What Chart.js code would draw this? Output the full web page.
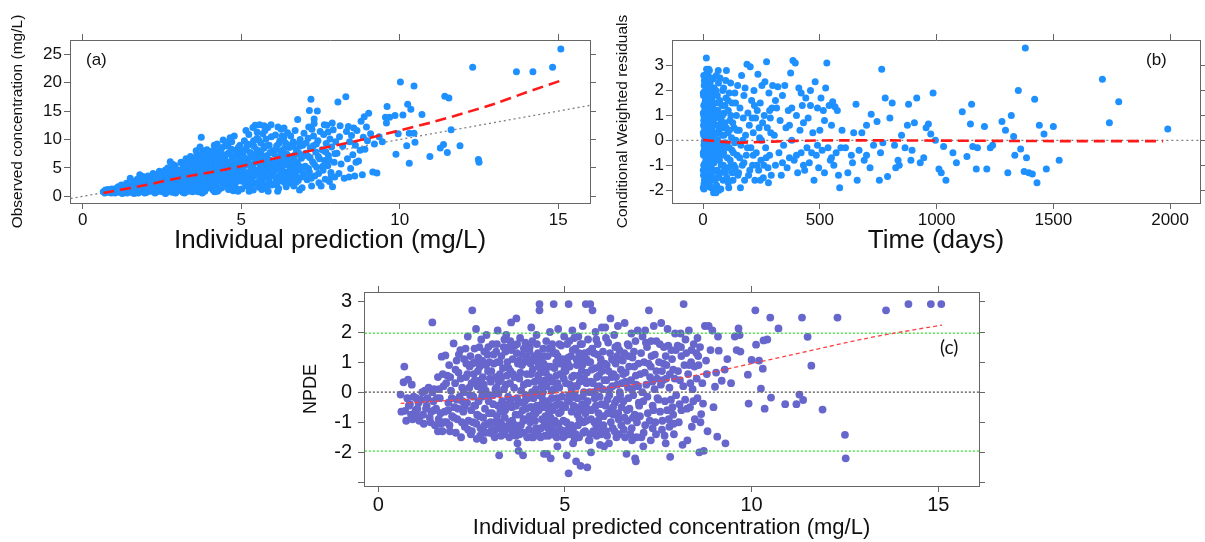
<!DOCTYPE html>
<html>
<head>
<meta charset="utf-8">
<script src="https://cdn.jsdelivr.net/npm/chart.js@4.4.1/dist/chart.umd.min.js"></script>
<style>
  body { margin: 0; background: #fff; width: 1205px; height: 542px; overflow: hidden; position: relative;
         font-family: "Liberation Sans", Arial, sans-serif; }
  canvas { position: absolute; }
  .tag { position: absolute; color: #111; font-size: 17px; line-height: 20px; }
</style>
</head>
<body>
<canvas id="chartA" width="600" height="262" style="left:0;top:0"></canvas>
<canvas id="chartB" width="600" height="262" style="left:605px;top:0"></canvas>
<canvas id="chartC" width="720" height="272" style="left:290px;top:270px"></canvas>
<div class="tag" style="left:86px;top:50px">(a)</div>
<div class="tag" style="left:1146px;top:50px">(b)</div>
<div class="tag" style="left:940px;top:337px;font-family:Lato,'Open Sans',sans-serif;font-size:19px">(c)</div>

<script>
// =======================
// Panel (a): observed vs individual prediction (mg/L)
// =======================
const ticksA_x = [0, 5, 10, 15];
const ticksA_y = [0, 5, 10, 15, 20, 25];
const obsVsPred = [
  [0.65,0.8],[0.7,0.6],[0.72,1.1],[0.78,0.7],[0.8,1.2],[0.85,0.9],[0.9,0.6],[0.92,1.3],[0.95,0.8],[0.98,1.0],
  [1.02,0.6],[1.05,1.4],[1.08,0.9],[1.12,1.7],[1.15,0.7],[1.2,1.2],[1.22,2.0],[1.27,0.8],[1.3,1.5],[1.33,1.0],[1.38,2.3],[1.4,0.6],[1.44,1.8],[1.47,1.2],[1.5,3.2],
  [1.52,0.7],[1.55,2.1],[1.58,1.4],[1.6,0.9],[1.63,2.6],[1.66,1.8],[1.7,1.1],[1.72,3.0],[1.75,0.6],[1.77,2.2],[1.8,3.8],[1.82,1.5],[1.85,2.8],[1.88,0.8],[1.9,3.5],[1.93,1.9],[1.95,2.5],[1.98,1.2],[1.99,3.1],
  [2.02,0.7],[2.04,2.0],[2.06,3.6],[2.1,1.3],[2.12,2.7],[2.15,0.9],[2.17,3.2],[2.2,1.8],[2.22,4.0],[2.25,2.4],[2.28,0.6],[2.3,3.0],[2.32,1.5],[2.35,3.7],[2.38,2.1],[2.4,0.9],[2.42,4.4],[2.45,2.8],[2.47,1.2],[2.48,3.4],[2.5,2.3],[2.36,1.0],
  [2.52,0.8],[2.54,3.9],[2.56,1.6],[2.58,2.9],[2.6,4.6],[2.62,0.6],[2.64,2.2],[2.66,3.4],[2.68,5.0],[2.7,1.2],[2.72,2.6],[2.74,4.1],[2.76,6.1],[2.78,1.8],[2.8,3.1],[2.82,0.7],[2.84,4.8],[2.86,2.4],[2.88,3.7],[2.9,1.4],[2.92,5.4],[2.94,2.9],[2.96,0.9],[2.98,4.3],[2.99,3.3],[2.7,3.9],[2.85,5.6],
  [3.02,1.0],[3.04,2.5],[3.06,4.6],[3.08,3.3],[3.1,6.0],[3.12,1.7],[3.14,3.9],[3.16,0.7],[3.18,5.2],[3.2,2.8],[3.22,4.2],[3.24,1.3],[3.26,6.6],[3.28,3.5],[3.3,2.1],[3.32,5.0],[3.34,0.9],[3.36,4.6],[3.38,2.7],[3.4,7.0],[3.42,3.8],[3.44,1.6],[3.46,5.6],[3.48,3.1],[3.5,4.4],[3.25,2.3],[3.35,3.0],[3.45,6.2],[3.15,5.7],
  [3.52,1.1],[3.54,3.6],[3.56,5.3],[3.58,2.4],[3.6,7.3],[3.62,4.1],[3.64,0.8],[3.66,6.0],[3.68,2.9],[3.7,4.8],[3.72,1.8],[3.74,10.4],[3.76,3.4],[3.78,6.7],[3.8,5.5],[3.82,2.2],[3.84,7.8],[3.86,4.4],[3.88,1.3],[3.9,3.8],[3.92,8.2],[3.94,5.9],[3.96,2.6],[3.98,4.9],[3.99,6.9],[3.65,3.2],[3.75,7.5],[3.85,0.9],[3.95,3.1],[3.55,6.5],[3.7,8.7],
  [4.02,1.5],[4.04,4.3],[4.06,6.3],[4.08,2.8],[4.1,8.0],[4.12,3.6],[4.14,5.4],[4.16,0.8],[4.18,7.1],[4.2,2.2],[4.22,4.8],[4.24,9.2],[4.26,3.3],[4.28,6.0],[4.3,1.2],[4.32,5.0],[4.34,7.6],[4.36,2.6],[4.38,4.0],[4.4,8.6],[4.42,5.7],[4.44,1.9],[4.46,3.1],[4.48,6.8],[4.5,4.5],[4.15,9.0],[4.25,0.9],[4.35,8.2],[4.45,7.3],[4.05,5.0],[4.3,3.8],
  [4.52,2.1],[4.54,6.1],[4.56,3.5],[4.58,8.8],[4.6,1.2],[4.62,5.2],[4.64,7.4],[4.66,2.8],[4.68,4.3],[4.7,9.6],[4.72,6.6],[4.74,1.6],[4.76,3.9],[4.78,10.6],[4.8,5.6],[4.82,2.4],[4.84,8.1],[4.86,4.8],[4.88,7.0],[4.9,0.9],[4.92,3.2],[4.94,6.3],[4.96,9.0],[4.98,4.1],[4.99,5.9],[4.65,10.3],[4.75,1.0],[4.85,3.0],[4.95,7.8],[4.55,4.8],[4.7,8.3],
  [5.02,1.3],[5.04,4.6],[5.06,7.2],[5.08,2.9],[5.1,9.8],[5.12,5.5],[5.14,3.6],[5.16,8.4],[5.18,1.8],[5.2,6.4],[5.22,4.2],[5.24,10.9],[5.26,2.5],[5.28,7.7],[5.3,5.1],[5.32,9.1],[5.34,3.2],[5.36,6.9],[5.38,1.1],[5.4,8.8],[5.42,4.7],[5.44,12.5],[5.46,6.0],[5.48,2.2],[5.5,10.2],[5.15,11.6],[5.25,0.9],[5.35,4.0],[5.45,7.4],[5.05,6.0],[5.3,2.0],
  [5.52,3.9],[5.54,7.8],[5.56,1.6],[5.58,12.6],[5.6,5.4],[5.62,9.4],[5.64,2.7],[5.66,6.6],[5.68,11.0],[5.7,4.3],[5.72,8.5],[5.74,1.9],[5.76,5.9],[5.78,10.1],[5.8,3.3],[5.82,7.2],[5.84,12.1],[5.86,4.8],[5.88,9.0],[5.9,2.4],[5.92,6.3],[5.94,12.6],[5.96,3.8],[5.98,8.0],[5.99,5.1],[5.65,1.2],[5.75,11.6],[5.85,0.9],[5.95,10.5],[5.55,9.9],[5.8,6.8],
  [6.02,2.1],[6.04,7.5],[6.06,4.6],[6.08,10.8],[6.1,3.0],[6.12,8.9],[6.14,5.7],[6.16,12.2],[6.18,1.4],[6.2,6.9],[6.22,9.8],[6.24,3.9],[6.26,11.8],[6.28,5.2],[6.3,8.1],[6.32,2.6],[6.34,10.3],[6.36,6.3],[6.38,4.3],[6.4,9.4],[6.42,1.7],[6.44,7.4],[6.46,11.2],[6.48,5.6],[6.5,3.4],[6.15,0.9],[6.25,7.9],[6.35,12.0],[6.45,2.9],
  [6.52,8.6],[6.54,5.0],[6.56,10.6],[6.58,2.3],[6.6,7.0],[6.62,4.1],[6.64,9.6],[6.66,1.8],[6.68,6.2],[6.7,11.6],[6.72,3.5],[6.74,8.2],[6.76,5.6],[6.78,13.5],[6.8,2.8],[6.82,7.6],[6.84,1.1],[6.86,10.0],[6.88,4.7],[6.9,6.7],[6.92,1.5],[6.94,9.0],[6.96,3.9],[6.98,11.1],[6.65,6.6],[6.75,4.4],[6.85,8.8],
  [7.02,5.3],[7.05,9.4],[7.08,2.9],[7.1,7.1],[7.13,12.2],[7.15,4.3],[7.18,8.5],[7.2,17.1],[7.22,1.8],[7.25,6.1],[7.28,10.6],[7.3,13.6],[7.32,3.6],[7.35,7.8],[7.38,5.1],[7.4,15.0],[7.42,9.8],[7.45,2.4],[7.47,6.6],[7.49,11.4],[7.12,4.9],[7.27,8.9],[7.44,4.0],
  [7.52,1.8],[7.55,8.2],[7.58,4.6],[7.6,10.9],[7.63,6.3],[7.65,3.0],[7.68,9.3],[7.7,12.5],[7.73,5.4],[7.75,7.2],[7.78,2.6],[7.8,10.1],[7.83,4.2],[7.85,8.7],[7.88,1.7],[7.9,11.7],[7.93,6.0],[7.95,3.4],[7.98,9.6],[7.62,12.6],[7.87,12.9],
  [8.02,7.6],[8.05,16.6],[8.08,4.0],[8.1,10.5],[8.12,12.4],[8.15,5.7],[8.2,8.8],[8.25,3.2],[8.3,17.5],[8.32,11.4],[8.35,6.6],[8.38,12.3],[8.4,3.4],[8.42,9.6],[8.45,4.9],[8.48,10.7],
  [8.52,7.3],[8.55,12.0],[8.58,3.6],[8.6,9.0],[8.62,6.0],[8.65,11.6],[8.7,6.2],[8.75,8.1],[8.78,13.2],[8.82,3.8],[8.85,10.4],[8.88,14.0],[8.9,8.3],[8.95,12.2],[8.98,9.8],
  [9.02,14.6],[9.08,11.0],[9.15,4.3],[9.2,9.2],[9.28,4.1],[9.35,10.5],[9.45,9.6],
  [9.6,15.8],[9.58,12.9],[9.68,13.9],[9.55,13.9],[9.85,14.2],[9.95,11.0],[9.88,7.4],[10.02,20.1],[10.1,14.3],[10.22,8.9],
  [10.25,16.2],[10.3,11.1],[10.3,5.8],[10.35,15.3],[10.45,19.4],[10.45,11.1],[10.48,9.5],[10.7,14.4],[10.95,7.0],[11.28,8.5],
  [11.38,9.1],[11.42,17.6],[11.5,7.7],[11.55,17.3],[11.62,11.7],[11.9,8.9],[12.3,22.7],[12.48,6.5],[12.5,6.0],[13.68,21.9],
  [14.2,21.9],[14.82,22.7],[15.08,25.9],
  // denser core of the cloud
  [1.1,1.1],[1.25,0.5],[1.35,1.6],[1.55,1.0],[1.68,2.4],[1.74,1.4],[1.86,2.0],[1.96,0.6],[1.62,0.5],[1.45,1.0],
  [2.05,1.6],[2.13,2.2],[2.19,1.1],[2.27,2.9],[2.33,0.8],[2.41,1.9],[2.44,3.2],[2.53,1.2],[2.57,2.5],[2.63,3.7],[2.67,1.0],[2.73,2.0],
  [2.77,3.3],[2.83,1.6],[2.87,2.9],[2.93,0.6],[2.97,2.1],[2.61,0.5],[2.79,4.4],[2.91,4.0],
  [3.03,3.6],[3.07,1.4],[3.11,2.2],[3.17,3.0],[3.21,0.6],[3.23,5.5],[3.29,1.0],[3.31,4.0],[3.37,1.9],[3.39,5.9],[3.41,2.4],[3.47,0.8],
  [3.49,3.6],[3.53,2.0],[3.57,4.3],[3.59,1.3],[3.61,5.8],[3.63,2.7],[3.67,4.5],[3.69,1.4],[3.71,6.3],[3.73,3.0],[3.77,0.6],[3.79,4.1],
  [3.81,8.0],[3.83,3.6],[3.87,5.0],[3.89,2.4],[3.91,6.4],[3.93,1.6],[3.97,7.2],[3.58,8.0],[3.46,4.8],[3.19,4.4],
  [4.03,2.4],[4.07,3.9],[4.09,6.9],[4.11,1.1],[4.13,4.6],[4.17,2.9],[4.19,6.2],[4.21,3.9],[4.23,1.6],[4.27,5.4],[4.29,7.9],[4.31,2.9],
  [4.33,4.4],[4.37,6.7],[4.39,1.5],[4.41,3.5],[4.43,9.9],[4.47,5.1],[4.49,2.5],[4.53,3.0],[4.57,5.5],[4.59,7.6],[4.61,2.3],[4.63,4.0],
  [4.67,6.1],[4.69,1.7],[4.71,3.4],[4.73,5.0],[4.77,7.1],[4.79,2.0],[4.81,4.5],[4.83,6.5],[4.87,1.3],[4.89,3.7],[4.91,8.6],[4.93,5.3],
  [4.97,2.7],[4.51,9.5],[4.26,8.7],
  [5.03,3.4],[5.07,5.2],[5.09,8.0],[5.11,2.4],[5.13,6.7],[5.17,4.1],[5.19,9.2],[5.21,3.0],[5.23,5.8],[5.27,1.6],[5.29,4.4],[5.31,7.0],
  [5.33,2.7],[5.37,5.6],[5.39,9.8],[5.41,3.6],[5.43,6.4],[5.47,4.3],[5.49,8.2],[5.53,2.5],[5.57,4.6],[5.59,6.9],[5.61,3.1],[5.63,8.0],
  [5.67,5.0],[5.69,2.2],[5.71,7.0],[5.73,3.6],[5.77,4.4],[5.79,8.9],[5.81,1.5],[5.83,5.5],[5.87,3.0],[5.89,6.0],[5.91,7.7],[5.93,4.4],
  [5.97,2.0],[5.5,11.3],[5.37,12.1],[5.72,12.4],
  [6.03,5.6],[6.07,3.5],[6.09,8.3],[6.11,6.3],[6.13,2.3],[6.17,4.9],[6.19,9.3],[6.21,3.3],[6.23,6.1],[6.27,4.2],[6.29,10.6],[6.31,7.2],
  [6.33,3.7],[6.37,5.5],[6.39,8.6],[6.41,2.1],[6.43,6.6],[6.47,4.0],[6.49,9.0],[6.53,6.2],[6.57,3.0],[6.61,5.4],[6.63,8.8],[6.67,4.6],
  [6.71,7.4],[6.73,2.5],[6.77,6.0],[6.79,3.2],[6.83,9.4],[6.87,5.2],[6.91,3.4],[6.93,7.2],[6.97,5.0],
  [7.03,7.6],[7.07,3.8],[7.11,10.2],[7.17,6.8],[7.21,3.2],[7.23,11.8],[7.31,5.6],[7.37,9.2],[7.43,7.0],[7.57,5.3],[7.67,7.8],[7.77,6.4],
  [7.84,3.6],[7.96,7.5],[7.74,11.3],[7.3,12.8],[7.15,15.1]
];
const smoothAx = [0.65, 2, 3, 4, 5, 6, 7, 8, 9, 10, 11, 12, 13, 14, 15.1];
const smoothAy = [0.6, 2.0, 3.2, 4.2, 5.3, 6.6, 7.8, 9.0, 10.2, 11.6, 13.0, 14.6, 16.3, 18.3, 20.4];
const identityRange = [-1, 17];

// =======================
// Panel (b): CWRES vs time (days)
// =======================
const ticksB_x = [0, 500, 1000, 1500, 2000];
const ticksB_y = [-2, -1, 0, 1, 2, 3];
const cwresVsTime = [
  [4,-1.95],[6,-1.6],[9,-1.2],[12,-0.8],[5,-0.4],[8,0.0],[11,0.4],[3,0.8],[7,1.2],[10,1.6],[13,2.0],[6,2.4],[9,2.6],[14,3.3],[15,2.85],
  [16,-1.85],[18,-1.45],[20,-1.05],[17,-0.6],[19,-0.2],[22,0.2],[16,0.6],[21,1.0],[18,1.4],[23,1.8],[20,2.2],[25,2.55],[24,2.85],[27,2.8],
  [26,-1.75],[28,-1.3],[30,-0.9],[27,-0.45],[32,-0.05],[29,0.35],[31,0.75],[33,1.15],[28,1.55],[34,1.95],[30,2.3],
  [36,-1.6],[38,-1.15],[35,-0.7],[40,-0.3],[37,0.1],[39,0.5],[36,0.9],[41,1.3],[38,1.7],[42,2.1],
  [2,-1.4],[3,-1.0],[2,-0.6],[4,-0.2],[3,0.2],[2,0.6],[4,1.0],[3,1.4],[2,1.8],[5,2.2],[4,-1.75],[11,-1.8],[13,-1.45],[15,-1.05],
  [14,-0.25],[12,1.05],[15,1.8],[10,2.25],[24,-0.95],[23,0.55],[26,1.25],[35,-1.9],[45,-2.1],
  [1,-1.9],[1,-1.2],[1,-0.5],[1,0.3],[1,1.1],[1,1.9],[7,-1.85],[8,-1.4],[6,-0.95],[5,-0.05],[7,0.45],[5,0.95],[8,1.5],[6,1.95],
  [9,-0.45],[10,0.05],[12,-1.3],[13,-0.4],[11,1.2],[14,1.45],[12,2.5],[17,-1.25],[19,-0.85],[21,-0.35],[16,0.15],[18,0.8],[22,1.2],
  [20,1.65],[19,2.45],[25,-1.5],[24,-0.55],[25,0.0],[27,0.55],[26,0.95],[29,1.8],[31,-1.55],[33,-0.65],[30,0.1],[32,1.45],[33,2.05],
  [35,0.25],[37,-0.95],[39,-0.05],[36,1.55],[40,2.45],[43,-1.25],[42,-0.45],[44,0.7],[41,1.8],[46,-1.9],[48,-0.15],[49,1.1],[47,2.1],
  [3,2.6],[8,2.35],[18,2.6],[28,2.45],
  [44,-1.5],[47,-0.9],[50,-0.3],[46,0.3],[52,0.9],[48,1.5],[55,2.0],[45,2.5],[58,-1.8],[60,-1.2],[57,-0.6],[62,0.0],[59,0.6],[64,1.2],[61,1.8],[66,2.3],
  [68,-1.4],[70,-0.8],[72,-0.2],[69,0.4],[74,1.0],[71,1.6],[76,-1.95],[78,-1.0],[80,0.2],[77,0.8],[82,1.4],[84,2.0],[86,-1.6],[88,-0.5],[85,0.5],
  [90,1.1],[92,-1.2],[95,-0.1],[93,0.7],[98,1.7],[100,2.8],[102,-1.5],[104,-0.7],[106,0.3],[108,1.2],[110,-1.9],[112,-0.3],[115,0.8],[118,2.3],
  [120,-1.0],[122,0.1],[125,1.5],[128,-1.6],[130,-0.5],[133,0.5],[136,1.9],[138,-1.1],[140,0.0],[143,1.0],[146,-0.6],[148,2.2],[65,2.8],[55,-2.1],
  [88,2.1],[112,1.9],[125,-1.3],
  [51,-1.6],[53,-0.65],[54,0.25],[56,1.2],[63,-1.5],[65,-0.4],[67,0.6],[62,1.5],[73,-1.3],[75,-0.4],[79,0.6],[81,-0.6],[83,1.0],[87,-1.0],
  [89,0.2],[91,-0.3],[94,1.4],[96,-1.3],[99,0.5],[103,-0.2],[107,1.6],[109,-1.1],[113,0.4],[116,-0.8],[119,1.0],[124,-0.4],[127,0.7],
  [132,-1.0],[135,-0.1],[139,1.5],[145,0.4],[149,-1.4],[57,2.6],[97,2.4],[73,2.5],[108,-1.7],[68,-2.0],
  [152,-1.3],[155,0.4],[158,1.3],[162,-0.2],[165,2.6],[168,-1.0],[172,0.9],[175,1.8],[178,-1.6],[182,0.2],[185,-0.6],[188,3.05],[192,1.1],[195,-1.4],
  [198,0.6],[202,2.95],[205,-0.3],[208,1.6],[212,-1.0],[215,0.3],[218,2.0],[222,-1.6],[225,0.9],[228,-0.5],[232,1.2],[235,2.65],[238,-1.2],[242,0.1],
  [245,1.5],[248,-0.8],[252,2.2],[255,0.7],[258,-1.5],[262,1.0],[265,2.35],[268,-0.3],[272,3.15],[275,0.5],[278,-1.1],[282,1.9],[285,-0.6],[288,0.9],
  [292,-1.4],[295,1.3],[298,2.2],[160,-1.9],[180,2.1],[200,-1.2],[220,1.4],[240,0.5],[260,-1.0],[280,-1.7],
  [157,-0.7],[170,0.0],[190,-0.3],[210,0.9],[230,-1.0],[250,0.0],[270,-0.7],[290,0.3],[175,-0.9],[215,-0.6],[245,-1.6],[285,1.2],
  [305,0.2],[310,-1.0],[315,1.3],[320,2.15],[325,-0.5],[330,0.8],[335,-1.4],[340,1.8],[345,-0.2],[350,2.2],[355,0.5],[360,-1.1],[365,1.2],[370,-0.7],
  [375,2.7],[380,0.0],[385,3.2],[390,-0.8],[395,3.1],[400,1.0],[405,-1.3],[410,2.1],[415,0.4],[420,-0.5],[425,1.4],[430,0.7],[435,-1.2],[440,1.7],
  [445,-0.3],[450,0.9],[455,-0.9],[460,1.4],[465,-0.5],[470,0.3],[475,-1.6],[480,2.35],[485,-0.6],[490,1.3],[495,-1.1],[500,0.4],[505,1.7],[510,-0.4],
  [515,1.2],[520,-1.3],[525,2.1],[530,3.1],[535,-0.3],[540,1.4],[545,-0.8],[550,0.6],[555,1.55],[560,-1.0],[565,1.35],[570,-0.5],[575,1.2],[580,-1.4],
  [585,-1.9],[590,-0.3],[595,0.4],[310,1.6],[340,-0.9],[370,0.6],[400,-0.6],[430,-1.0],[460,2.0],[490,-0.2],[520,0.8],[550,-0.7],[420,1.9],[380,1.3],
  [610,-0.3],[620,-1.3],[635,-0.6],[645,0.3],[655,1.45],[660,-1.6],[668,-0.4],[680,0.3],[690,-0.8],[700,-0.6],[715,-1.1],[720,1.05],[730,-0.2],
  [745,0.75],[755,-1.6],[765,2.85],[770,-0.1],[780,1.7],[790,-1.45],[800,0.9],[810,1.5],[820,-0.2],[835,-0.8],[840,-1.0],[850,0.2],[865,-0.3],
  [875,0.6],[880,1.45],[890,-0.8],[905,0.7],[915,1.7],[930,-0.9],[945,-0.7],[955,0.5],[965,0.65],[975,0.25],[985,1.9],[995,0.0],[640,-0.9],
  [700,0.6],[760,-0.5],[825,-1.1],[895,-0.4],
  [1010,-1.15],[1020,-1.3],[1030,-0.25],[1040,-1.6],[1070,-0.5],[1085,-0.9],[1110,1.15],[1130,-0.65],[1145,0.65],[1150,1.45],[1155,-0.25],
  [1170,-1.15],[1175,-0.3],[1205,0.55],[1215,-1.15],[1230,-0.3],[1240,-0.2],[1280,0.75],[1295,0.4],[1305,-1.3],[1320,1.0],[1330,0.15],
  [1335,-0.6],[1350,2.0],[1360,-0.35],[1375,-1.25],[1380,3.7],[1385,-0.7],[1395,-1.3],[1410,-1.35],[1420,1.65],[1430,-1.7],[1440,0.6],
  [1460,0.25],[1470,-1.15],[1500,0.55],[1525,-0.8],[1710,2.45],[1740,0.7],[1780,1.55],[1990,0.45]
];
const smoothBx = [0, 50, 100, 150, 200, 300, 400, 600, 1000, 1500, 1970];
const smoothBy = [0.02, -0.03, -0.07, -0.09, -0.08, -0.05, -0.02, 0.0, -0.01, -0.03, -0.03];
const timeRange = [-200, 2200];

// =======================
// Panel (c): NPDE vs individual predicted concentration
// =======================
const ticksC_x = [0, 5, 10, 15];
const ticksC_y = [-3, -2, -1, 0, 1, 2, 3];
const npdeVsPred = [
  [0.6,-0.08],[0.68,0.33],[0.7,0.85],[0.72,-0.62],[0.75,-0.95],[0.8,0.42],[0.82,-0.45],[0.88,-0.75],[0.9,0.25],[0.95,-0.15],[0.98,-0.85],
  [1.02,-0.2],[1.05,-0.55],[1.1,-0.95],[1.15,-0.25],[1.2,-0.75],[1.25,0.05],[1.3,-0.45],[1.35,0.15],[1.4,-1.0],[1.45,2.32],[1.42,-0.65],[1.48,-0.3],[1.5,0.1],
  [1.52,-1.1],[1.55,-0.55],[1.6,0.5],[1.62,-0.9],[1.65,-0.2],[1.7,1.18],[1.72,-1.3],[1.75,0.2],[1.78,-0.65],[1.8,1.22],[1.83,-1.0],[1.85,0.55],[1.88,-0.35],[1.9,0.9],[1.92,-1.3],[1.95,0.05],[1.98,-0.8],[1.6,-1.3],
  [0.62,-0.65],[0.78,-0.2],[0.85,-0.4],[0.92,-0.9],[1.0,-0.6],[1.08,-0.35],[1.12,-0.8],[1.18,0.0],[1.22,-1.05],[1.28,-0.55],[1.32,-0.2],
  [1.38,-0.85],[1.45,0.0],[1.5,-0.6],[1.57,-0.2],[1.63,0.1],[1.67,-0.7],[1.73,0.6],[1.77,-1.0],[1.82,0.3],[1.87,-0.6],[1.93,0.5],[1.97,-0.2],
  [1.68,-1.05],[1.91,-1.1],
  [2.02,1.62],[2.04,-0.5],[2.06,0.3],[2.08,-1.35],[2.1,1.05],[2.12,-0.9],[2.15,0.65],[2.18,-0.15],[2.2,1.4],[2.22,-1.5],[2.25,0.15],[2.28,-0.65],[2.3,1.1],
  [2.32,-1.15],[2.35,0.5],[2.38,-0.35],[2.4,1.85],[2.42,-0.95],[2.45,0.85],[2.48,-1.4],[2.5,0.3],[2.26,-0.3],[2.36,0.95],[2.46,-0.1],[2.14,-0.55],
  [2.52,2.72],[2.54,-1.0],[2.56,0.6],[2.58,1.45],[2.6,-0.45],[2.62,2.1],[2.64,-1.55],[2.66,0.2],[2.68,1.15],[2.7,-0.8],[2.72,0.85],[2.74,-1.2],[2.76,1.75],
  [2.78,-0.15],[2.8,0.5],[2.82,-1.6],[2.84,1.35],[2.86,-0.55],[2.88,0.05],[2.9,1.9],[2.92,-1.05],[2.94,0.7],[2.96,-0.3],[2.98,1.0],[2.99,-1.35],
  [2.55,-0.15],[2.65,-0.75],[2.75,0.4],[2.85,-1.1],[2.95,1.5],[2.6,1.0],[2.7,0.25],
  [2.03,-0.85],[2.07,0.75],[2.11,-0.25],[2.16,1.25],[2.21,0.45],[2.24,-1.0],[2.29,0.0],[2.31,-0.5],[2.34,1.45],[2.39,0.6],[2.41,-1.25],
  [2.44,0.15],[2.47,1.2],[2.49,-0.6],[2.51,-1.3],[2.53,0.95],[2.57,-0.45],[2.59,0.4],[2.63,-1.05],[2.67,0.7],[2.69,-0.3],[2.71,1.5],
  [2.73,-1.45],[2.77,0.05],[2.79,1.05],[2.81,-0.85],[2.83,0.25],[2.87,-1.35],[2.89,0.9],[2.91,-0.1],[2.93,1.25],[2.97,-0.7],[2.99,0.45],
  [3.02,0.35],[3.04,-1.25],[3.06,1.6],[3.08,-0.4],[3.1,0.95],[3.12,-1.5],[3.14,0.1],[3.16,1.35],[3.18,-0.8],[3.2,2.05],[3.22,-0.05],[3.24,-2.1],
  [3.26,0.6],[3.28,-1.0],[3.3,1.2],[3.32,-0.3],[3.34,0.8],[3.36,-1.4],[3.38,1.75],[3.4,-0.6],[3.42,0.25],[3.44,-1.15],[3.46,1.0],[3.48,-0.15],[3.5,1.5],
  [3.05,-0.7],[3.15,0.5],[3.25,1.0],[3.35,-0.55],[3.45,0.55],[3.13,-1.0],[3.23,0.35],[3.33,-1.3],[3.43,1.9],[3.27,-0.65],
  [3.01,-1.0],[3.03,0.7],[3.07,-0.1],[3.09,1.25],[3.11,-1.3],[3.17,0.15],[3.19,1.0],[3.21,-0.45],[3.29,0.45],[3.31,-1.1],[3.37,0.1],
  [3.39,-0.85],[3.41,1.35],[3.47,-0.4],[3.49,0.8],[3.51,-1.5],[3.53,0.3],[3.59,-0.95],[3.61,0.6],[3.69,-0.45],[3.71,1.3],[3.79,-0.75],
  [3.81,0.65],[3.89,-1.35],[3.91,1.0],[3.93,-0.3],[3.99,0.3],[3.09,-1.4],[3.19,-1.2],[3.29,-1.45],[3.39,-1.3],[3.49,-1.2],[3.59,-1.3],
  [3.69,-1.45],[3.79,-1.4],[3.89,-0.95],[3.18,1.6],[3.36,1.5],[3.54,1.7],[3.72,1.6],[3.9,1.45],
  [3.52,-1.0],[3.54,0.7],[3.56,2.32],[3.58,-0.5],[3.6,1.1],[3.62,-1.4],[3.64,0.15],[3.66,1.55],[3.68,-0.75],[3.7,2.45],[3.72,-0.2],[3.74,0.95],
  [3.76,-1.95],[3.78,0.45],[3.8,1.8],[3.82,-1.1],[3.84,-0.35],[3.86,1.25],[3.88,-2.1],[3.9,0.25],[3.92,-0.9],[3.94,1.65],[3.96,-0.55],[3.98,0.6],
  [3.99,-1.5],[3.55,-0.25],[3.65,0.5],[3.75,-1.2],[3.85,0.9],[3.95,-0.1],[3.57,1.4],[3.67,-1.1],[3.77,1.05],[3.87,-0.6],[3.97,1.15],[3.63,-0.45],
  [3.83,0.05],[3.73,-1.7],
  [4.02,0.3],[4.04,-1.25],[4.06,1.5],[4.08,-0.5],[4.1,2.15],[4.12,-1.5],[4.14,0.75],[4.16,-0.2],[4.18,1.2],[4.2,-0.95],[4.22,0.1],[4.24,1.9],
  [4.26,-1.4],[4.28,0.55],[4.3,-0.6],[4.32,2.93],[4.34,1.0],[4.36,-1.2],[4.38,0.2],[4.4,-0.35],[4.42,1.45],[4.44,-2.05],[4.46,0.85],[4.48,-0.8],
  [4.5,1.7],[4.05,-0.8],[4.15,1.05],[4.25,-0.45],[4.35,0.65],[4.45,-1.1],[4.32,2.72],[4.08,0.95],[4.18,-1.35],[4.28,1.3],[4.38,-0.15],[4.48,0.4],
  [4.12,0.0],[4.42,-0.5],[4.22,-0.7],
  [4.01,-0.2],[4.03,1.1],[4.07,-1.0],[4.09,0.6],[4.11,-0.5],[4.13,1.7],[4.17,-0.7],[4.19,0.35],[4.21,1.05],[4.23,-1.2],[4.27,-0.1],[4.29,0.85],
  [4.31,-1.45],[4.33,0.4],[4.37,1.2],[4.39,-0.9],[4.41,0.0],[4.43,0.95],[4.47,-1.45],[4.49,0.65],[4.51,0.2],[4.53,-1.0],[4.57,1.45],[4.59,-0.45],
  [4.61,0.85],[4.63,-1.25],[4.67,-0.6],[4.69,1.3],[4.71,0.1],[4.73,-0.95],[4.77,0.55],[4.79,-0.2],[4.81,1.2],[4.83,-1.05],[4.87,0.6],[4.89,-0.65],
  [4.91,0.95],[4.93,-1.3],[4.97,-0.45],[4.99,0.75],[4.15,-1.5],[4.35,-1.5],[4.55,-1.2],[4.75,-1.45],[4.95,-1.5],[4.05,1.35],[4.25,1.6],[4.45,1.2],
  [4.65,1.45],[4.85,1.6],
  [4.52,-0.3],[4.54,1.2],[4.56,-1.45],[4.58,0.5],[4.6,2.0],[4.62,-0.85],[4.64,0.05],[4.66,1.6],[4.68,-1.1],[4.7,2.93],[4.72,0.8],[4.74,-0.45],
  [4.76,1.3],[4.78,-1.5],[4.8,0.3],[4.82,2.1],[4.84,-0.7],[4.86,0.95],[4.88,-1.25],[4.9,1.55],[4.92,-0.15],[4.94,0.6],[4.96,-0.95],[4.98,1.85],
  [4.99,-1.45],[4.55,0.85],[4.65,-0.2],[4.75,-1.3],[4.85,0.15],[4.95,1.1],[4.57,-0.6],[4.67,0.35],[4.77,1.0],[4.87,-0.4],[4.97,0.45],[4.62,-2.2],
  [4.52,-2.05],[4.8,-1.8],
  [5.02,0.7],[5.04,-1.0],[5.06,1.6],[5.08,-0.3],[5.1,2.93],[5.12,-1.4],[5.14,0.25],[5.16,1.2],[5.18,-0.65],[5.2,2.05],[5.22,-1.2],[5.24,0.55],
  [5.26,-0.1],[5.28,1.45],[5.3,-2.3],[5.32,0.9],[5.34,-0.75],[5.36,1.85],[5.38,-1.5],[5.4,0.35],[5.42,-2.45],[5.44,1.05],[5.46,-0.4],[5.48,2.2],
  [5.5,-1.0],[5.05,-2.1],[5.1,-2.7],[5.15,-0.2],[5.25,1.8],[5.35,-1.1],[5.45,0.7],[5.08,0.95],[5.18,0.1],[5.28,-0.5],[5.38,1.3],[5.48,-0.15],
  [5.22,-1.7],[5.42,1.6],[5.32,0.2],
  [5.01,-0.5],[5.03,0.3],[5.07,-1.25],[5.09,1.15],[5.11,-0.1],[5.13,0.85],[5.17,-1.1],[5.19,0.5],[5.21,1.4],[5.23,-0.45],[5.27,0.2],[5.29,-1.4],
  [5.31,1.1],[5.33,-0.2],[5.37,0.55],[5.39,-0.9],[5.41,1.25],[5.43,-0.6],[5.47,0.9],[5.49,-1.35],[5.51,0.0],[5.53,1.3],[5.57,-0.95],[5.59,0.65],
  [5.61,-0.3],[5.63,1.0],[5.67,-1.4],[5.69,0.35],[5.71,-0.6],[5.73,1.45],[5.77,0.0],[5.79,-1.0],[5.81,0.8],[5.83,-0.45],[5.87,1.25],[5.89,-0.95],
  [5.91,0.55],[5.93,-0.15],[5.97,-1.4],[5.99,0.7],[5.12,1.7],[5.46,1.6],[5.84,1.75],[5.26,-1.55],[5.66,-1.6],
  [5.52,0.45],[5.54,-1.3],[5.56,2.93],[5.58,1.1],[5.6,-0.55],[5.62,1.75],[5.64,-1.6],[5.66,0.0],[5.68,2.93],[5.7,-0.9],[5.72,0.75],[5.74,2.72],
  [5.76,-1.3],[5.78,1.3],[5.8,-0.2],[5.82,2.0],[5.84,-1.1],[5.86,0.5],[5.88,1.6],[5.9,-0.7],[5.92,0.2],[5.94,-1.75],[5.96,1.1],[5.98,-0.4],
  [5.99,2.15],[5.55,-0.7],[5.65,1.35],[5.75,0.3],[5.85,-1.45],[5.95,0.9],[5.6,-2.5],[5.7,-2.0],[5.58,0.3],[5.78,-0.55],[5.88,0.15],[5.68,1.0],
  [5.92,-1.2],
  [6.02,1.35],[6.04,-0.8],[6.06,0.4],[6.08,2.15],[6.1,-1.3],[6.12,0.9],[6.14,-0.25],[6.16,1.65],[6.18,-1.7],[6.2,0.1],[6.22,2.45],[6.24,-0.6],
  [6.26,1.1],[6.28,-1.2],[6.3,0.6],[6.32,1.9],[6.34,-0.35],[6.36,0.95],[6.38,-1.5],[6.4,0.25],[6.42,2.2],[6.44,-0.9],[6.46,1.4],[6.48,-0.1],
  [6.5,0.75],[6.05,-1.8],[6.15,-0.7],[6.25,0.5],[6.35,1.5],[6.45,-1.4],[6.1,1.8],[6.3,-0.75],[6.4,1.2],
  [6.01,0.1],[6.03,-1.1],[6.07,0.95],[6.09,-0.45],[6.11,0.4],[6.13,-1.45],[6.17,0.7],[6.19,-0.1],[6.21,1.3],[6.23,-1.0],[6.27,0.2],[6.29,-0.5],
  [6.31,1.05],[6.33,-1.3],[6.37,0.5],[6.39,-0.25],[6.41,1.55],[6.43,-0.7],[6.47,0.0],[6.49,1.1],[6.51,-1.1],[6.53,0.3],[6.57,-0.3],[6.59,1.3],
  [6.61,-1.5],[6.63,0.65],[6.67,-0.95],[6.69,0.15],[6.71,1.55],[6.73,-0.55],[6.77,0.4],[6.79,-1.2],[6.81,1.15],[6.83,-0.1],[6.87,-0.75],[6.89,1.7],
  [6.91,0.25],[6.93,-1.0],[6.97,0.95],[6.99,-0.45],
  [6.52,-0.5],[6.55,1.05],[6.58,-1.25],[6.6,2.3],[6.62,0.35],[6.65,-2.05],[6.68,1.6],[6.7,-0.2],[6.72,0.85],[6.75,-1.4],[6.78,1.95],[6.8,0.1],
  [6.82,-0.85],[6.85,1.35],[6.88,-2.2],[6.9,0.55],[6.92,-1.5],[6.95,2.05],[6.98,-0.35],[6.6,-0.85],[6.7,1.2],[6.8,-1.6],[6.9,-2.3],[6.56,0.6],
  [6.66,-0.6],[6.86,0.85],[6.96,0.2],
  [7.02,0.6],[7.05,-1.5],[7.08,1.85],[7.1,-0.3],[7.12,1.0],[7.15,-1.1],[7.18,0.25],[7.2,1.5],[7.22,-0.7],[7.25,2.72],[7.28,0.5],[7.3,-1.6],
  [7.32,1.2],[7.35,-0.45],[7.38,2.2],[7.4,0.1],[7.42,-1.0],[7.45,1.7],[7.48,-0.2],[7.1,-1.8],[7.3,0.85],[7.45,0.7],[7.15,2.05],[7.35,-1.2],
  [7.01,-0.8],[7.04,1.3],[7.07,0.0],[7.11,-1.35],[7.14,0.65],[7.17,1.65],[7.21,-0.15],[7.24,0.95],[7.27,-0.95],[7.31,1.7],[7.34,0.35],[7.37,-0.6],
  [7.41,1.25],[7.44,-1.4],[7.47,0.45],[7.51,-0.25],[7.54,1.6],[7.57,0.25],[7.61,-0.95],[7.64,0.95],[7.67,-1.45],[7.71,0.45],[7.74,-0.6],[7.77,1.55],
  [7.81,0.6],[7.84,-0.25],[7.87,1.1],[7.91,-1.05],[7.94,0.45],[7.97,1.4],
  [7.52,1.0],[7.55,-0.65],[7.58,2.3],[7.6,-1.25],[7.62,0.4],[7.65,1.5],[7.68,-0.3],[7.7,-1.7],[7.72,0.9],[7.75,2.1],[7.78,-0.9],[7.8,0.15],
  [7.82,-2.15],[7.85,1.4],[7.88,-0.5],[7.9,0.75],[7.92,-1.4],[7.95,1.95],[7.98,-0.1],[7.6,0.7],[7.7,1.2],[7.8,-1.15],[7.9,-0.75],
  [8.02,1.55],[8.05,-1.0],[8.08,0.4],[8.1,1.95],[8.12,-0.6],[8.15,-1.75],[8.18,2.93],[8.2,0.9],[8.22,-0.25],[8.25,1.3],[8.28,-1.6],[8.3,0.6],
  [8.32,2.05],[8.35,-0.5],[8.38,1.0],[8.4,-1.15],[8.42,0.1],[8.45,1.6],[8.48,-0.9],[8.12,1.2],[8.36,0.3],
  [8.03,0.7],[8.07,-0.4],[8.11,1.5],[8.17,0.2],[8.23,1.75],[8.27,-0.55],[8.33,0.9],[8.39,1.4],[8.44,-0.3],[8.47,0.85],[8.53,0.45],[8.57,1.2],[8.63,-1.0],
  [8.52,1.3],[8.55,-0.2],[8.58,0.9],[8.6,-2.0],[8.62,1.5],[8.65,-0.73],[8.68,0.3],[8.7,-0.38],[8.72,-1.95],[8.75,2.2],[8.78,1.05],[8.82,-1.3],
  [8.85,2.2],[8.9,1.4],[8.95,2.05],[8.98,-0.5],[8.55,1.8],[8.8,0.6],
  [9.02,0.18],[9.05,0.65],[9.08,-1.48],[9.1,1.85],[9.12,1.38],[9.2,0.38],[9.28,0.75],[9.3,-1.7],[9.35,1.1],[9.45,0.3],
  [9.55,1.85],[9.6,1.4],[9.68,1.9],[9.7,1.35],[9.65,2.12],[9.9,0.58],[9.92,-0.38],[10.0,1.07],[10.1,2.72],[10.12,1.58],[10.2,1.05],[10.25,0.12],
  [10.3,0.78],[10.32,1.72],[10.35,-0.55],[10.42,1.75],[10.5,2.48],[10.52,-0.18],[10.72,2.12],[10.9,-0.4],[11.2,-0.4],[11.28,-0.08],[11.35,2.48],
  [11.38,-0.26],[11.5,1.84],[11.6,0.88],[11.9,-0.58],[12.3,2.48],[12.5,-1.42],[12.52,-2.2],[13.6,2.72],[14.2,2.93],[14.8,2.93],[15.08,2.93]
];
const smoothCx = [0.6, 2, 3, 4, 5, 6, 7, 8, 9, 10, 11, 12, 13, 14, 15.1];
const smoothCy = [-0.37, -0.27, -0.2, -0.1, 0.0, 0.12, 0.28, 0.45, 0.68, 0.95, 1.22, 1.5, 1.77, 2.0, 2.23];
const npdeBounds = [-1.96, 1.96];
const predRange = [-1, 17];

// =======================
// Helpers
// =======================
const AXIS_GREY = '#666666';
const toXY = pairs => pairs.map(p => ({ x: p[0], y: p[1] }));
const zip = (xs, ys) => xs.map((x, i) => ({ x: x, y: ys[i] }));
const hline = (range, y) => range.map(x => ({ x: x, y: y }));
const fixTicks = values => s => { s.ticks = values.map(v => ({ value: v })); };
const plainLabel = v => String(v);

function pointSet(data, color, r, order) {
  return { data: toXY(data), backgroundColor: color, borderWidth: 0, pointRadius: r, pointHoverRadius: r, order: order };
}

function lineSet(data, color, width, dash, order, tension) {
  return { data: data, showLine: true, borderColor: color, borderWidth: width, borderDash: dash,
           pointRadius: 0, fill: false, tension: tension || 0, order: order };
}

// boxed axes: ticks on all four sides, labels on left/bottom only
function boxScales(p) {
  const grid = { display: true, drawOnChartArea: false, drawTicks: true, tickLength: 6, color: AXIS_GREY, lineWidth: 1 };
  const border = { display: true, color: AXIS_GREY, width: 1 };
  return {
    x: { type: 'linear', position: 'bottom', min: p.x[0], max: p.x[1], grid: grid, border: border,
         afterBuildTicks: fixTicks(p.xTicks),
         ticks: { color: '#111', font: p.tickFont, padding: p.xPad, autoSkip: false, maxRotation: 0, callback: plainLabel },
         title: { display: true, text: p.xTitle, color: '#111', font: p.xTitleFont, padding: { top: 0, bottom: p.xTitlePad } },
         afterFit: s => { s.height = p.box[3]; } },
    x2: { type: 'linear', position: 'top', min: p.x[0], max: p.x[1], grid: grid, border: border,
          afterBuildTicks: fixTicks(p.xTicks), ticks: { display: false },
          afterFit: s => { s.height = p.box[1]; } },
    y: { type: 'linear', position: 'left', min: p.y[0], max: p.y[1], grid: grid, border: border,
         afterBuildTicks: fixTicks(p.yTicks),
         ticks: { color: '#111', font: p.tickFont, padding: p.yPad, autoSkip: false, callback: p.yLabel || plainLabel },
         title: { display: true, text: p.yTitle, color: '#111', font: p.yTitleFont, padding: { top: p.yTitlePad, bottom: 0 } },
         afterFit: s => { s.width = p.box[0]; } },
    y2: { type: 'linear', position: 'right', min: p.y[0], max: p.y[1], grid: grid, border: border,
          afterBuildTicks: fixTicks(p.yTicks), ticks: { display: false },
          afterFit: s => { s.width = p.box[2]; } }
  };
}

function makeChart(id, datasets, scales) {
  return new Chart(document.getElementById(id), {
    type: 'scatter',
    data: { datasets: datasets },
    options: {
      responsive: false, animation: false, devicePixelRatio: 1,
      layout: { padding: 0 },
      plugins: { legend: { display: false }, tooltip: { enabled: false } },
      scales: scales
    }
  });
}

Chart.defaults.font.family = '"Liberation Sans", Arial, sans-serif';

// =======================
// (a)
// =======================
makeChart('chartA', [
  lineSet(zip(smoothAx, smoothAy), '#ff1a1a', 2.6, [11, 6], 0, 0.3),
  pointSet(obsVsPred, '#1e90ff', 3.5, 1),
  lineSet(identityRange.map(v => ({ x: v, y: v })), '#808080', 1.3, [2, 3], 2)
], boxScales({
  x: [-0.4, 16.0], xTicks: ticksA_x, y: [-1.17, 27.5], yTicks: ticksA_y,
  box: [70, 40, 10, 59],
  tickFont: { size: 17 }, xPad: 1, yPad: 2,
  xTitle: 'Individual prediction (mg/L)', xTitleFont: { size: 26 }, xTitlePad: 6,
  yTitle: 'Observed concentration (mg/L)', yTitleFont: { size: 15.5 }, yTitlePad: 8
}));

// =======================
// (b)
// =======================
makeChart('chartB', [
  lineSet(zip(smoothBx, smoothBy), '#ff1a1a', 2.6, [11, 6], 0, 0.3),
  pointSet(cwresVsTime, '#1e90ff', 3.5, 1),
  lineSet(hline(timeRange, 0), '#808080', 1.3, [2, 3], 2)
], boxScales({
  x: [-133, 2128], xTicks: ticksB_x, y: [-2.51, 4.02], yTicks: ticksB_y,
  box: [67, 40, 5, 59],
  tickFont: { size: 17 }, xPad: 1, yPad: 2,
  xTitle: 'Time (days)', xTitleFont: { size: 26 }, xTitlePad: 6,
  yTitle: 'Conditional Weighted residuals', yTitleFont: { size: 15.5 }, yTitlePad: 8
}));

// =======================
// (c)
// =======================
makeChart('chartC', [
  lineSet(zip(smoothCx, smoothCy), '#ff4040', 1.3, [4, 3], 0, 0.3),
  lineSet(hline(predRange, 0), '#707070', 1.6, [2, 2], 1),
  lineSet(hline(predRange, npdeBounds[1]), '#33dd33', 1.3, [2, 2], 1),
  lineSet(hline(predRange, npdeBounds[0]), '#33dd33', 1.3, [2, 2], 1),
  pointSet(npdeVsPred, '#6666cc', 3.9, 2)
], boxScales({
  x: [-0.38, 16.09], xTicks: ticksC_x, y: [-3.12, 3.33], yTicks: ticksC_y,
  box: [74, 22, 31, 56],
  tickFont: { size: 20 }, xPad: 1, yPad: 6,
  yLabel: v => (v === -3 ? '' : String(v)),
  xTitle: 'Individual predicted concentration (mg/L)', xTitleFont: { size: 22 }, xTitlePad: 1,
  yTitle: 'NPDE', yTitleFont: { size: 18 }, yTitlePad: 10
}));
</script>
</body>
</html>
